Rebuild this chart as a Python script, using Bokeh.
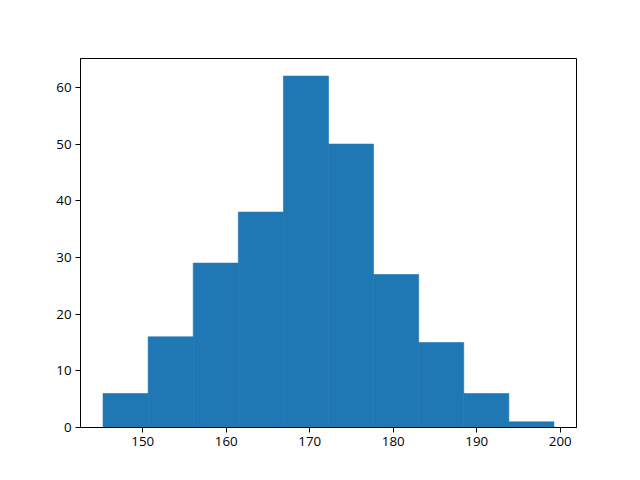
from bokeh.plotting import figure
from bokeh.models import Range1d, FixedTicker
from bokeh.embed import file_html
from bokeh.resources import INLINE

# Histogram data
bin_edges = [145.25, 150.65, 156.05, 161.45, 166.85, 172.25, 177.65, 183.05, 188.45, 193.85, 199.25]
counts = [6, 16, 29, 38, 62, 50, 27, 15, 6, 1]
x_ticks = [150, 160, 170, 180, 190, 200]
y_ticks = [0, 10, 20, 30, 40, 50, 60]

p = figure(width=624, height=464, output_backend="svg", toolbar_location=None,
           x_range=Range1d(142.55, 201.95), y_range=Range1d(0, 65.1),
           min_border_left=80, min_border_right=48, min_border_top=58, min_border_bottom=37)

p.quad(left=bin_edges[:-1], right=bin_edges[1:], top=counts, bottom=0,
       fill_color="#1f77b4", line_color="#1f77b4", line_width=0.6)

p.xgrid.visible = False
p.ygrid.visible = False
p.outline_line_color = "black"
p.outline_line_width = 1
p.outline_line_alpha = 1

for ax in (p.xaxis[0], p.yaxis[0]):
    ax.axis_line_color = "black"
    ax.major_tick_line_color = "black"
    ax.major_tick_out = 5
    ax.major_tick_in = 0
    ax.minor_tick_line_color = None
    ax.major_label_text_font = "Open Sans"
    ax.major_label_text_font_size = "13.3px"
    ax.major_label_text_color = "black"
    ax.major_label_standoff = 4

p.xaxis[0].ticker = FixedTicker(ticks=x_ticks)
p.yaxis[0].ticker = FixedTicker(ticks=y_ticks)

open("out.html", "w").write(file_html(p, INLINE))
